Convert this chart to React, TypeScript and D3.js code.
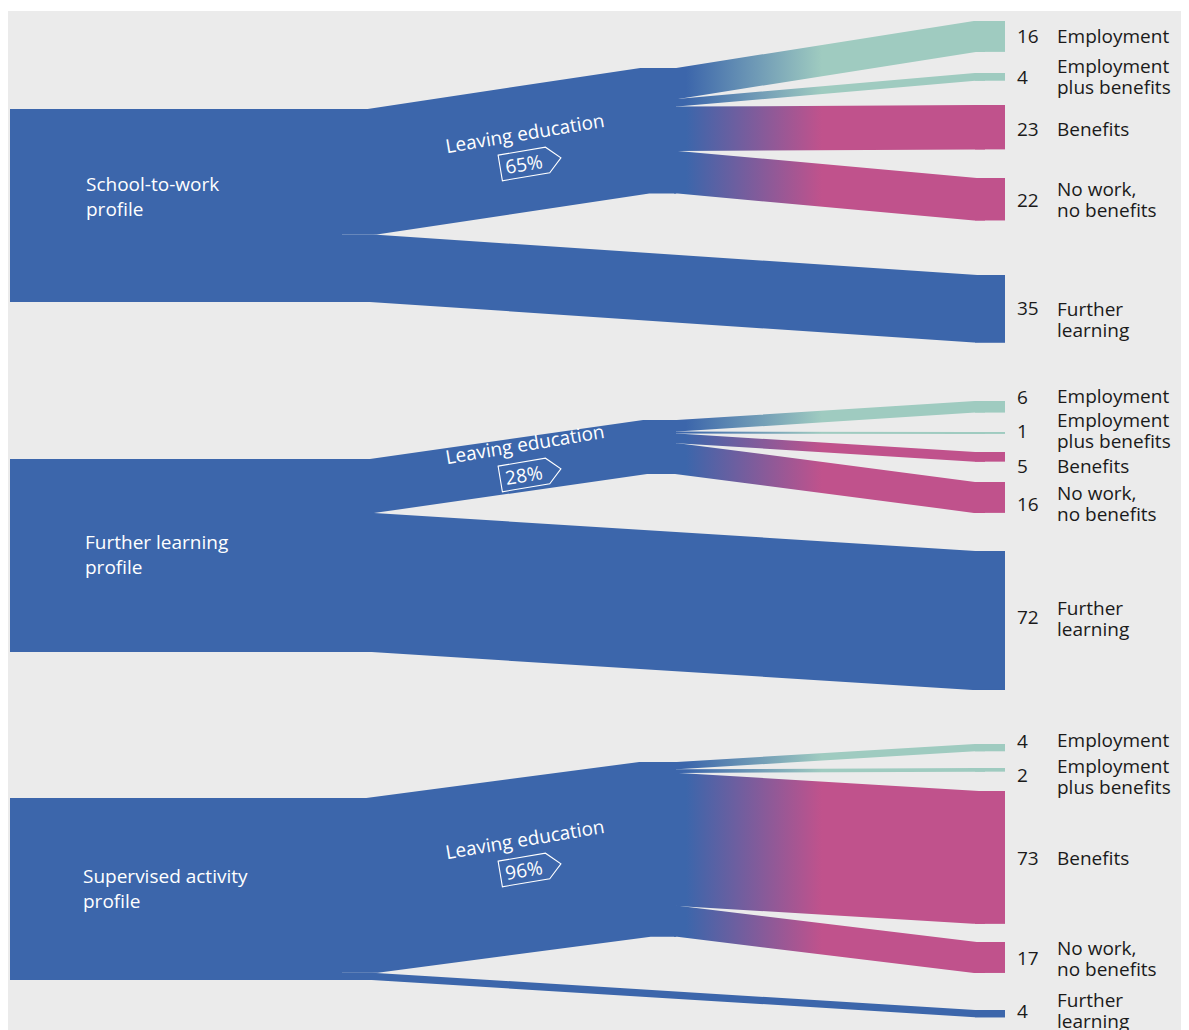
import React from "react";
import * as d3 from "d3";

// ---------- data ----------
const GROUP_LINES = [
  ["School-to-work", "profile"],
  ["Further learning", "profile"],
  ["Supervised activity", "profile"],
];
const LEAVING = [65, 28, 96];
const FURTHER = [35, 72, 4];
const OUTCOME_LINES = [
  ["Employment"],
  ["Employment", "plus benefits"],
  ["Benefits"],
  ["No work,", "no benefits"],
  ["Further", "learning"],
];
const EMPLOYMENT = [16, 6, 4];
const EMP_PLUS_BENEFITS = [4, 1, 2];
const BENEFITS = [23, 5, 73];
const NO_WORK = [22, 16, 17];
const OUTCOME_COLOR_KEY = ["teal", "teal", "pink", "pink", "blue"];
const MIDDLE_LABEL = "Leaving education";

// ---------- layout / style ----------
const COLORS: Record<string, string> = {
  blue: "#3c66ab",
  teal: "#9fcbc0",
  pink: "#c0528c",
  bg: "#ebebeb",
  text: "#1a1a1a",
};
const FONT = "'Open Sans', 'Noto Sans', sans-serif";
const L = {
  blockX0: 10,
  blockX1: 342,
  bend1: 372,
  midX0: 645,
  midX1: 675,
  endX0: 975,
  endX1: 1005,
  numX: 1017,
  labelX: 1057,
  gradX0: 686,
  gradX1: 822,
  lineGap: 21,
  blockLineGap: 24.5,
};
const GROUP_TOP = [109, 459, 798];
const GROUP_HEIGHT = [193, 193, 182];
const MID_TOP = [68, 420, 762];
const END_TOP = [
  [21, 73, 105, 178, 275],
  [401, 432, 452, 482, 551],
  [744, 768, 791, 942, 1010],
];
const NUM_BASE = [
  [43, 84, 136, 207, 315],
  [404, 438, 473, 511, 624],
  [748, 782, 865, 965, 1018],
];
const LABEL_BASE = [
  [43, 73, 136, 196, 316],
  [403, 427, 473, 500, 615],
  [747, 773, 865, 955, 1007],
];
const BLOCK_LABEL_X = [86, 85, 83];
const BLOCK_LABEL_Y = [191, 549, 883];
const LEAVE_ANCHOR = [
  [526, 140],
  [526, 451],
  [526, 846],
];

const line = d3.line();

function Group({ g }: { g: number }) {
  const y = d3.scaleLinear().domain([0, 100]).range([0, GROUP_HEIGHT[g]]);
  const values = [EMPLOYMENT[g], EMP_PLUS_BENEFITS[g], BENEFITS[g], NO_WORK[g], FURTHER[g]];
  const top = GROUP_TOP[g];
  const leaveW = y(LEAVING[g]);
  const furtherW = y(FURTHER[g]);

  const leavePath = line([
    [L.blockX1, top + leaveW / 2],
    [L.bend1, top + leaveW / 2],
    [L.midX0, MID_TOP[g] + leaveW / 2],
    [L.midX1 + 1, MID_TOP[g] + leaveW / 2],
  ] as [number, number][]);
  const furtherPath = line([
    [L.blockX1, top + leaveW + furtherW / 2],
    [L.bend1, top + leaveW + furtherW / 2],
    [L.endX0, END_TOP[g][4] + furtherW / 2],
    [L.endX1, END_TOP[g][4] + furtherW / 2],
  ] as [number, number][]);

  let cum = 0;
  const second = values.slice(0, 4).map((v, i) => {
    const w = y(v);
    const sy = MID_TOP[g] + y(cum) + w / 2;
    cum += v;
    const ty = END_TOP[g][i] + w / 2;
    const d = line([
      [L.midX1 - 1, sy],
      [L.midX1 + 2, sy],
      [L.endX0, ty],
      [L.endX0 + 10, ty],
    ] as [number, number][]);
    return { d, w, key: OUTCOME_COLOR_KEY[i] };
  });

  const [ax, ay] = LEAVE_ANCHOR[g];

  return (
    <g>
      <rect x={L.blockX0} y={top} width={L.blockX1 - L.blockX0} height={y(100)} fill={COLORS.blue} />
      <path d={furtherPath!} fill="none" stroke={COLORS.blue} strokeWidth={furtherW} strokeLinejoin="miter" />
      <path d={leavePath!} fill="none" stroke={COLORS.blue} strokeWidth={leaveW} strokeLinejoin="miter" />
      {second.map((s, i) => (
        <path
          key={i}
          d={s.d!}
          fill="none"
          stroke={`url(#grad-${s.key})`}
          strokeWidth={s.w}
          strokeLinejoin="miter"
        />
      ))}
      {values.map((v, i) => (
        <rect
          key={i}
          x={L.endX0}
          y={END_TOP[g][i]}
          width={L.endX1 - L.endX0}
          height={y(v)}
          fill={COLORS[OUTCOME_COLOR_KEY[i]]}
        />
      ))}
      {/* block label */}
      {GROUP_LINES[g].map((t, i) => (
        <text
          key={i}
          x={BLOCK_LABEL_X[g]}
          y={BLOCK_LABEL_Y[g] + i * L.blockLineGap}
          fill="#ffffff"
          fontSize={19}
          fontFamily={FONT}
        >
          {t}
        </text>
      ))}
      {/* leaving education label */}
      <g transform={`translate(${ax},${ay}) rotate(-9.5)`}>
        <text x={0} y={0} textAnchor="middle" fill="#ffffff" fontSize={19} fontFamily={FONT}>
          {MIDDLE_LABEL}
        </text>
        <path
          d="M-30,10.3 L18,10.3 L31.5,23.3 L18,36.3 L-30,36.3 Z"
          fill="none"
          stroke="#ffffff"
          strokeWidth={1.1}
        />
        <text x={-6} y={30.3} textAnchor="middle" fill="#ffffff" fontSize={19} fontFamily={FONT}>
          {`${LEAVING[g]}%`}
        </text>
      </g>
      {/* right labels */}
      {values.map((v, i) => (
        <g key={i}>
          <text x={L.numX} y={NUM_BASE[g][i]} fill={COLORS.text} fontSize={19} fontFamily={FONT}>
            {v}
          </text>
          {OUTCOME_LINES[i].map((t, j) => (
            <text
              key={j}
              x={L.labelX}
              y={LABEL_BASE[g][i] + j * L.lineGap}
              fill={COLORS.text}
              fontSize={19}
              fontFamily={FONT}
            >
              {t}
            </text>
          ))}
        </g>
      ))}
    </g>
  );
}

export default function App() {
  return (
    <svg width={1181} height={1022} style={{ display: "block" }}>
      <defs>
        {["teal", "pink"].map((k) => (
          <linearGradient key={k} id={`grad-${k}`} gradientUnits="userSpaceOnUse" x1={L.gradX0} y1={0} x2={L.gradX1} y2={0}>
            <stop offset="0" stopColor={COLORS.blue} />
            <stop offset="1" stopColor={COLORS[k]} />
          </linearGradient>
        ))}
      </defs>
      <g transform="translate(-8,-8)">
        <rect x={8} y={11} width={1181} height={1019} fill={COLORS.bg} />
        {[0, 1, 2].map((g) => (
          <Group key={g} g={g} />
        ))}
      </g>
    </svg>
  );
}
